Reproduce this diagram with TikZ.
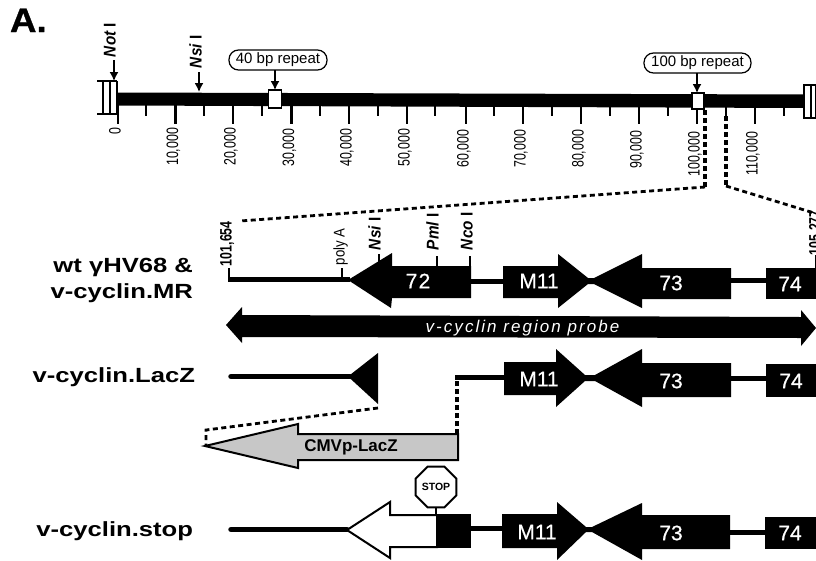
\documentclass[tikz,border=0pt]{standalone}
\usepackage{graphicx}
\usepackage{fontspec}
\setmainfont{Liberation Sans}
\newfontfamily\genefont[FakeBold=0.6]{Liberation Sans}
\newfontfamily\heavyfont[FakeBold=0.8]{Liberation Sans Bold}
\usetikzlibrary{arrows.meta,shapes.geometric}
\newcommand\fsz[1]{\fontsize{#1}{#1}\selectfont}
\newcommand\squeezed[1]{\scalebox{.75}[1]{\fsz{16.5}#1}}
\newcommand\enz[2]{\scalebox{.9}[1]{\fsz{17}\bfseries\itshape #1\upshape\ #2}}
\newcommand\wide[1]{\scalebox{1.25}[1]{\fsz{20.5}\bfseries #1}}
\tikzset{
  txt/.style={inner sep=0pt,outer sep=0pt},
  ticklab/.style={txt,rotate=90,anchor=mid east},
  uplab/.style={txt,rotate=90,anchor=mid west},
  rowlab/.style={txt,anchor=base east},
  genetxt/.style={txt,text=white,font=\genefont\fsz{21}},
  bubble/.style={draw,line width=1.2pt,rounded corners=9.5pt,fill=white,txt,font=\fsz{15}},
  whitebox/.style={draw,line width=1.5pt,fill=white},
  link/.style={line width=5pt,line cap=butt},
  backbone/.style={line width=5.5pt,line cap=round},
  tickline/.style={line width=2.5pt},
  siteline/.style={line width=2pt},
  zoomdash/.style={line width=2.8pt,dash pattern=on 5pt off 3.5pt},
  zoomdashv/.style={line width=3.4pt,dash pattern=on 5pt off 3pt},
  pointer/.style={line width=1.5pt,-{Latex[length=9pt,width=9pt]}},
  blk/.style={fill=black,draw=none},
}
\begin{document}
\begin{tikzpicture}[x=1pt,y=-1pt]
\clip (0,0) rectangle (816,560);
\fill[white] (0,0) rectangle (816,560);

\node[txt,anchor=base west] (lblA) at (10,32) {\scalebox{1.08}[1]{\heavyfont\fsz{34}A.}};

% genome bar
\fill[black] (117,92.5) -- (804,94.5) -- (804,108) -- (117,105.5) -- cycle;

% end repeats
\draw[line width=1.2pt] (97,81) -- (117,81) (97,114) -- (117,114)
  (103,81) -- (103,114) (110,81) -- (110,114);
\draw[line width=1.8pt] (117,81) -- (117,114);
\draw[whitebox] (804,85) rectangle (815.5,118);
\draw[line width=1.2pt] (811,85) -- (811,118);

% ticks
\foreach \x/\lab/\top in {118/0/128,175.5/{10,000}/128,233/{20,000}/128,291.5/{30,000}/128.5,349/{40,000}/129,407/{50,000}/129,466/{60,000}/129.5,523/{70,000}/130,581/{80,000}/130,639/{90,000}/131,697/{100,000}/132,755/{110,000}/132}{
  \draw[tickline] (\x,105) -- (\x,123.5);
  \node[ticklab] at (\x,\top) {\squeezed{\lab}};
}
\foreach \x in {146,204,262,320,378,435,494,552,610,668,784}{
  \draw[tickline] (\x,105) -- (\x,115.5);
}
\draw[tickline] (726,106) -- (726,116);

% repeat boxes and pointers
\node[whitebox,minimum width=13pt,minimum height=18pt,txt,draw] (boxA) at (275,99) {};
\node[whitebox,minimum width=12pt,minimum height=16pt,txt,draw] (boxB) at (698,101) {};
\node[bubble,minimum width=98pt,minimum height=20pt] (repA) at (278,60) {40 bp repeat};
\node[bubble,minimum width=107pt,minimum height=20pt] (repB) at (697.5,63) {100 bp repeat};
\draw[pointer] (boxA |- repA.south) -- (boxA.north);
\draw[pointer] (697,73) -- (697,93);

\node[uplab] (notI) at (113,57) {\enz{Not}{I}};
\node[uplab] (nsiA) at (199,68) {\enz{Nsi}{I}};
\coordinate (notTip) at (114,81);
\coordinate (nsiTip) at (199,92);
\draw[pointer] (notTip |- 0,60) -- (notTip);
\draw[pointer] (nsiTip |- 0,72) -- (nsiTip);

% expansion lines
\coordinate (zA) at (705,110);
\coordinate (zB) at (705,187);
\coordinate (zC) at (240,221);
\coordinate (zD) at (726,116);
\coordinate (zE) at (726,186);
\coordinate (zF) at (814,213);
\draw[zoomdashv] (zA) -- (zB);
\draw[zoomdash] (zB) -- (zC);
\draw[zoomdashv] (zD) -- (zE);
\draw[zoomdash] (zE) -- (zF);

% row labels
\node[rowlab] (rowWt) at (193,272) {\wide{wt γHV68 \&}};
\node[rowlab] (rowMR) at (193,298) {\wide{v-cyclin.MR}};
\node[rowlab] (rowLZ) at (195,382) {\wide{v-cyclin.LacZ}};
\node[rowlab] (rowST) at (193,536) {\wide{v-cyclin.stop}};

% row 1
\draw[line width=2pt] (229,280) -- (229,268);
\draw[line width=5pt] (228,279.5) -- (350,279.5);
\draw[siteline] (342,279) -- (342,268);
\node[uplab] (lb101) at (229,266) {\squeezed{\bfseries 101,654}};
\node[uplab] (lbpoly) at (342,265) {\scalebox{.85}[1]{\fsz{15.5}poly A}};
\fill[blk] (348,280) -- (392,253) -- (392,266) -- (471,266) -- (471,298) -- (392,298) -- (391,308) -- cycle;
\draw[siteline] (379,263) -- (379,254) (437,267) -- (437,256) (470,267) -- (470,256);
\node[uplab] (nsiB) at (378,250) {\enz{Nsi}{I}};
\node[uplab] (pml) at (436,250) {\enz{Pml}{I}};
\node[uplab] (nco) at (470,250) {\enz{Nco}{I}};
\node[genetxt] (g72) at (418,281) {\addfontfeature{LetterSpace=6}72};
\draw[link] (471,281) -- (503,281);
\fill[blk] (503,266) -- (558,266) -- (558,254) -- (588,278) -- (594,278) -- (642,254) -- (642,268) -- (731,268) -- (731,299) -- (642,299) -- (642,308) -- (594,284) -- (588,284) -- (558,308) -- (558,298) -- (503,298) -- cycle;
\node[genetxt] (m1) at (539,281) {M11};
\node[genetxt] (t1) at (671,283) {73};
\draw[link] (731,280.5) -- (766,280.5);
\fill[blk] (766,268) rectangle (816,299);
\node[genetxt] (s1) at (790,284) {74};
\draw[line width=1pt] (815,268) -- (815,255);
\node[uplab] (lb105) at (818,255) {\squeezed{\bfseries 105,277}};

% probe
\fill[blk] (226,325) -- (242,307) -- (242,315) -- (801,317) -- (801,310) -- (816,328) -- (801,346) -- (801,338) -- (242,337) -- (242,343) -- cycle;
\node[txt,text=white,anchor=base,font=\fsz{17}\itshape] (probe) at (522.5,332) {\addfontfeature{LetterSpace=12}v-cyclin region probe};

% row 2
\draw[backbone] (231,376.5) -- (350,376.5);
\fill[blk] (348,376.5) -- (378,353) -- (378,404) -- cycle;
\coordinate (d1) at (378,408);
\coordinate (d2) at (206,430);
\coordinate (d3) at (206,445);
\draw[zoomdash] (d1) -- (d2) -- (d3);
\draw[line width=2pt,fill=black!22,line join=miter] (205,446) -- (298,424) -- (298,434) -- (458,434) -- (458,460) -- (298,460) -- (298,468) -- cycle;
\node[txt,anchor=center,font=\fsz{17}\bfseries] (cmv) at (351,447) {CMVp-LacZ};
\coordinate (d4) at (457,434);
\coordinate (d5) at (457,377);
\draw[zoomdashv] (d4) -- (d5);
\draw[link] (455,377) -- (505,377);
\fill[blk] (504,362) -- (556,362) -- (556,349) -- (585,375) -- (595,375) -- (642,349) -- (642,363) -- (731,363) -- (731,397) -- (642,397) -- (642,407) -- (595,381) -- (585,381) -- (556,407) -- (556,395) -- (504,395) -- cycle;
\node[genetxt] (m2) at (539,379) {M11};
\node[genetxt] (t2) at (671,381) {73};
\draw[link] (731,378.5) -- (766,378.5);
\fill[blk] (766,364) rectangle (816,397);
\node[genetxt] (s2) at (791,381) {74};

% row 3
\draw[backbone] (231,529.5) -- (347,529.5);
\draw[line width=2pt,fill=white,line join=miter] (347,530) -- (390,502) -- (390,515) -- (437,515) -- (437,547) -- (390,547) -- (390,558) -- cycle;
\fill[blk] (436,514) rectangle (471,548);
\node[draw,line width=2pt,fill=white,regular polygon,regular polygon sides=8,inner sep=0pt,minimum size=44pt,font=\fsz{10.5}\bfseries] (stop) at (436,487) {STOP};
\coordinate (stopfoot) at (436,514);
\draw[siteline] (stop.south -| stopfoot) -- (stopfoot);
\draw[link] (471,528.5) -- (503,528.5);
\fill[blk] (502,514) -- (557,514) -- (557,502) -- (586,527) -- (592,527) -- (642,503) -- (642,515) -- (730,515) -- (730,549) -- (642,549) -- (642,560) -- (592,532) -- (586,532) -- (557,560) -- (557,548) -- (502,548) -- cycle;
\node[genetxt] (m3) at (537,532) {M11};
\node[genetxt] (t3) at (671,533) {73};
\draw[link] (730,532) -- (765,532);
\fill[blk] (765,517) rectangle (816,549);
\node[genetxt] (s3) at (790,533) {74};
\end{tikzpicture}
\end{document}
